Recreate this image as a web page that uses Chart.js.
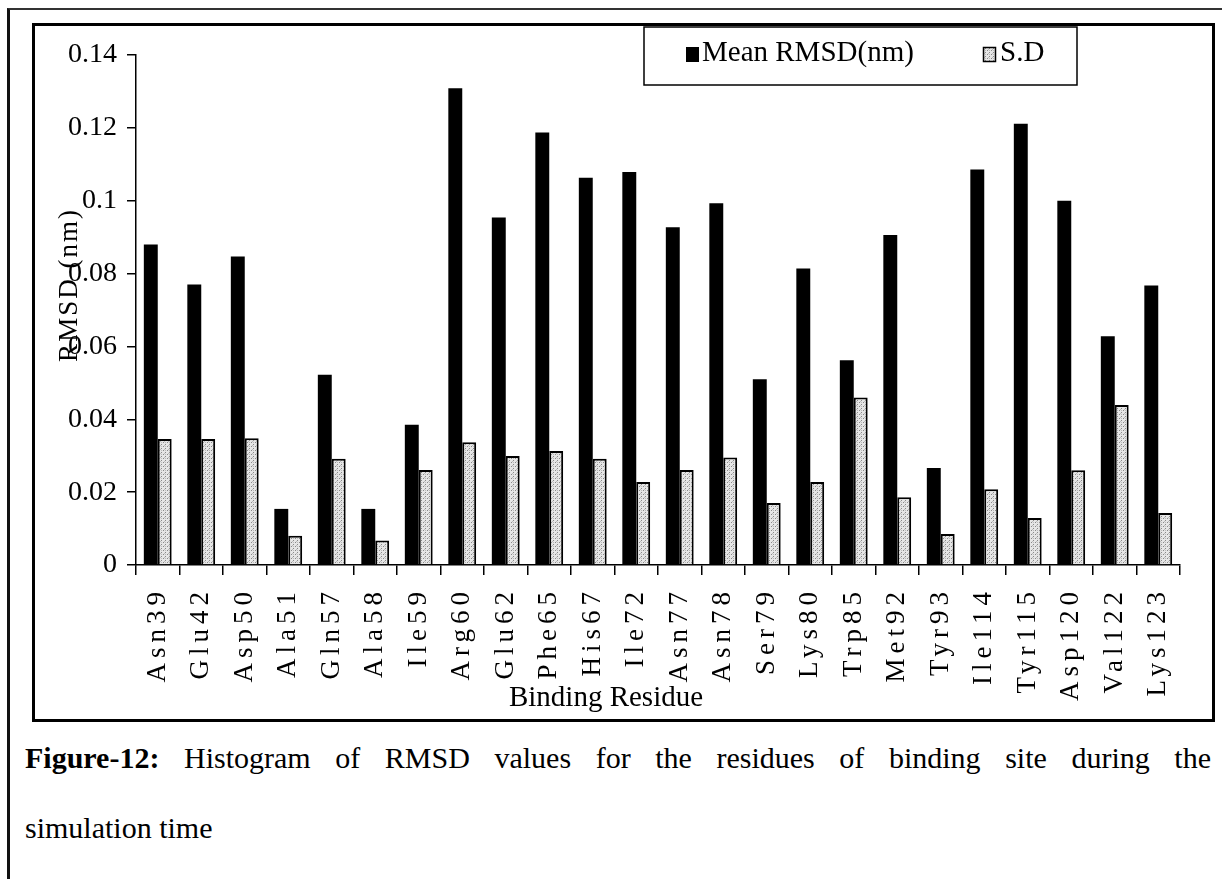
<!DOCTYPE html>
<html>
<head>
<meta charset="utf-8">
<script src="https://cdn.jsdelivr.net/npm/chart.js@4.4.0/dist/chart.umd.min.js"></script>
<style>
body{margin:0;background:#fff;width:1222px;height:879px;overflow:hidden;position:relative;font-family:"Liberation Serif",serif;}
#frame{position:absolute;left:7px;top:8px;width:1300px;height:1000px;border-left:3px solid #111;border-top:2px solid #333;}
#box{position:absolute;left:32px;top:23px;width:1177px;height:693px;border:3px solid #000;}
#box canvas{display:block}
.cap{position:absolute;left:25px;width:1186px;font-size:30px;line-height:34px;color:#000;white-space:nowrap;}
#cap1{top:741px;text-align:justify;text-align-last:justify;white-space:normal;}
#cap2{top:811px;}
</style>
</head>
<body>
<div id="frame"></div>
<div id="box"><canvas id="chart" width="1177" height="693"></canvas></div>
<div class="cap" id="cap1"><b>Figure-12:</b> Histogram of RMSD values for the residues of binding site during the</div>
<div class="cap" id="cap2">simulation time</div>
<script>
// values
const residues = ['Asn39','Glu42','Asp50','Ala51','Gln57','Ala58','Ile59','Arg60','Glu62','Phe65','His67','Ile72',
  'Asn77','Asn78','Ser79','Lys80','Trp85','Met92','Tyr93','Ile114','Tyr115','Asp120','Val122','Lys123'];
const meanRmsd = [0.088,0.077,0.0847,0.0154,0.0522,0.0154,0.0385,0.1309,0.0954,0.1187,0.1063,0.1079,
  0.0927,0.0993,0.051,0.0814,0.0562,0.0906,0.0266,0.1086,0.1211,0.1,0.0628,0.0767];
const sdRmsd = [0.0346,0.0346,0.0348,0.008,0.0292,0.0067,0.0261,0.0337,0.0299,0.0313,0.0292,0.0228,
  0.0261,0.0295,0.017,0.0228,0.046,0.0186,0.0085,0.0208,0.0129,0.026,0.0439,0.0143];
const yTicks = [0,0.02,0.04,0.06,0.08,0.1,0.12,0.14];
const yTickLabels = ['0','0.02','0.04','0.06','0.08','0.1','0.12','0.14'];
const seriesNames = ['Mean RMSD(nm)','S.D'];
const xTitle = 'Binding Residue';
const yTitle = 'RMSD (nm)';

const FONT = '"Liberation Serif", "Times New Roman", serif';
const canvas = document.getElementById('chart');
const ctx = canvas.getContext('2d');

// grey stipple used for the S.D bars
const makeDots = () => {
  const c = document.createElement('canvas');
  c.width = 4; c.height = 4;
  const g = c.getContext('2d');
  g.fillStyle = '#e6e6e6'; g.fillRect(0,0,4,4);
  g.fillStyle = '#8a8a8a'; g.fillRect(0,0,1,1); g.fillRect(2,2,1,1);
  g.fillStyle = '#bcbcbc'; g.fillRect(2,0,1,1); g.fillRect(1,3,1,1);
  return ctx.createPattern(c, 'repeat');
}
const dots = makeDots();

// letter spaced category labels, like the original
const spacedLabels = {
  id: 'spacedLabels',
  beforeDraw(chart){
    const s = chart.scales.x;
    if(!s._spaced){
      const orig = s.drawLabels.bind(s);
      s.drawLabels = (area) => {
        chart.ctx.save();
        chart.ctx.letterSpacing = '5px';
        orig(area);
        chart.ctx.restore();
      };
      s._spaced = true;
    }
  }
};

// axis titles and the boxed legend
const overlay = {
  id: 'overlay',
  afterDraw(chart){
    const c = chart.ctx;
    const a = chart.chartArea;
    c.save();
    c.fillStyle = '#000';
    c.font = '29px ' + FONT;
    c.textAlign = 'center';
    c.textBaseline = 'alphabetic';
    c.fillText(xTitle, a.left + 470, a.bottom + 141);

    c.save();
    c.translate(a.left - 66, a.top + 230);
    c.rotate(-Math.PI/2);
    c.textBaseline = 'middle';
    c.font = '27px ' + FONT;
    c.letterSpacing = '2px';
    c.fillText(yTitle, 0, 0);
    c.restore();

    // legend
    const lx = a.left + 508, ly = a.top - 28;
    c.strokeStyle = '#000';
    c.lineWidth = 1.5;
    c.strokeRect(lx, ly, 433, 58);
    c.font = '29px ' + FONT;
    c.textAlign = 'left';
    c.textBaseline = 'middle';
    c.fillRect(a.left + 550, a.top - 8, 13, 15);
    c.fillText(seriesNames[0], a.left + 566, a.top - 2);
    c.fillStyle = dots;
    c.fillRect(a.left + 847, a.top - 8, 13, 15);
    c.strokeRect(a.left + 847.5, a.top - 7.5, 12, 14);
    c.fillStyle = '#000';
    c.fillText(seriesNames[1], a.left + 864, a.top - 2);
    c.restore();
  }
};

new Chart(ctx, {
  type: 'bar',
  data: {
    labels: residues,
    datasets: [{
      label: seriesNames[0],
      data: meanRmsd,
      backgroundColor: '#000',
      borderWidth: 0,
      categoryPercentage: 0.64,
      barPercentage: 1
    },{
      label: seriesNames[1],
      data: sdRmsd,
      backgroundColor: dots,
      borderColor: '#000',
      borderWidth: 2,
      categoryPercentage: 0.64,
      barPercentage: 1
    }]
  },
  options: {
    responsive: false,
    animation: false,
    devicePixelRatio: 1,
    layout: {padding: {top: 29, right: 32, left: 0, bottom: 0}},
    plugins: {legend: {display: false}, tooltip: {enabled: false}},
    scales: {
      x: {
        grid: {drawOnChartArea: false, color: '#000', tickLength: 10, lineWidth: 1.5},
        border: {color: '#000', width: 1.5},
        ticks: {color: '#000', font: {family: FONT, size: 27}, minRotation: 90, maxRotation: 90, autoSkip: false, padding: 12},
        afterFit(s){ s.height = 154; }
      },
      y: {
        min: 0,
        max: 0.14,
        afterBuildTicks(s){ s.ticks = yTicks.map(v => ({value: v})); },
        grid: {drawOnChartArea: false, color: '#000', tickLength: 9, lineWidth: 1.5},
        border: {color: '#000', width: 1.5},
        ticks: {
          color: '#000',
          font: {family: FONT, size: 28},
          padding: 10,
          callback: (v) => yTickLabels[yTicks.findIndex(t => Math.abs(t - v) < 1e-9)]
        },
        afterFit(s){ s.width = 101; }
      }
    }
  },
  plugins: [spacedLabels, overlay]
});
</script>
</body>
</html>
